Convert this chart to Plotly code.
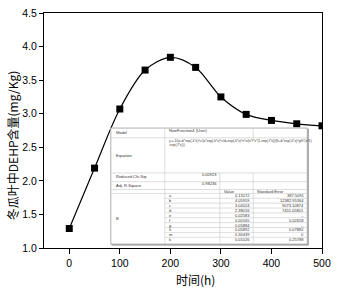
import plotly.graph_objects as go

# ---- data ----
time_h = [0, 50, 100, 150, 200, 250, 300, 350, 400, 450, 500]
dehp = [1.29, 2.19, 3.07, 3.65, 3.84, 3.69, 3.25, 2.99, 2.90, 2.85, 2.82]

x_ticks = [0, 100, 200, 300, 400, 500]
y_ticks = [1.0, 1.5, 2.0, 2.5, 3.0, 3.5, 4.0, 4.5]
x_title = "时间(h)"
y_title = "冬瓜叶中DEHP含量(mg/Kg)"

model_name = "NewFunction4 (User)"
equation_lines = [
    "y = 1/(a+b*exp(-k*x)^c/(a*exp(-k*x)^c/d+exp(-k*x)^e*x/(e*f*x*(1-exp(-f*x))/(h+b*exp(-k*x)^g/h*(x^1)",
    "-exp(-f*x)))",
]
chi_sqr = "0.00923"
adj_r2 = "0.98236"
param_names = ["a", "b", "c", "d", "e", "f", "g", "h", "m", "k"]
param_values = ["0.13172", "4.05959", "3.04024", "2.38016", "0.02583",
                "0.00165", "0.05884", "0.05892", "0.30439", "0.01026"]
param_errors = ["387.5091", "12382.95364", "9073.10874", "7451.05801", "--",
                "0.02658", "--", "0.07882", "0", "0.25788"]

fig = go.Figure()
fig.add_trace(go.Scatter(
    x=time_h, y=dehp, mode="lines+markers",
    line=dict(color="black", width=1.2, shape="spline", smoothing=0.9),
    marker=dict(symbol="square", size=7, color="black"),
    showlegend=False,
))

# ---- layout ----
L, R, T, B = 44, 11, 7, 40
W, H = 338, 288
pw, ph = W - L - R, H - T - B

fig.update_layout(
    width=W, height=H,
    margin=dict(l=L, r=R, t=T, b=B),
    plot_bgcolor="white", paper_bgcolor="white",
    font=dict(family="Liberation Sans, Arial, sans-serif", color="black"),
    xaxis=dict(
        range=[-50, 500], tickvals=x_ticks, ticks="outside", ticklen=5,
        tickwidth=1, tickcolor="black", showline=True, linecolor="black",
        linewidth=1.2, mirror=True, showgrid=False, zeroline=False,
        tickfont=dict(size=10.5),
    ),
    yaxis=dict(
        range=[1.0, 4.5], tickvals=y_ticks, tickformat=".1f", ticks="outside",
        ticklen=4, tickwidth=1, tickcolor="black", showline=True,
        linecolor="black", linewidth=1.2, mirror=True, showgrid=False,
        zeroline=False, tickfont=dict(size=10.5),
    ),
)

# ---- inset table (drawn in paper coordinates) ----
def px(xp):
    return (xp - L) / pw

def py(yp):
    return (H - B - yp) / ph

tl, tr, tt, tb = 112, 312, 125, 244
c1, c2, c3 = 167, 223, 257
shapes = []
shapes.append(dict(type="rect", xref="paper", yref="paper",
                   x0=px(tl + 1), x1=px(tr + 1), y0=py(tb + 1), y1=py(tt + 1),
                   line=dict(color="#9a9a9a", width=1), fillcolor="#9a9a9a", layer="above"))
shapes.append(dict(type="rect", xref="paper", yref="paper",
                   x0=px(tl), x1=px(tr), y0=py(tb), y1=py(tt),
                   line=dict(color="#b0b0b0", width=1), fillcolor="white", layer="above"))

def hline(y, x0=tl, x1=tr):
    shapes.append(dict(type="line", xref="paper", yref="paper", x0=px(x0), x1=px(x1),
                       y0=py(y), y1=py(y), line=dict(color="#c8c8c8", width=0.6), layer="above"))

def vline(x, y0, y1):
    shapes.append(dict(type="line", xref="paper", yref="paper", x0=px(x), x1=px(x),
                       y0=py(y0), y1=py(y1), line=dict(color="#c8c8c8", width=0.6), layer="above"))

hline(135)
hline(171)
hline(180)
hline(188)
hline(192, c1, tr)
row_top = 192
row_h = (tb - 2 - row_top) / len(param_names)
for i in range(1, len(param_names)):
    hline(row_top + i * row_h, c1, tr)
hline(192, tl, c1)
vline(c1, tt, tb)
vline(c3, tt, 135)
vline(c2, 171, tb)
vline(c3, 171, tb)

annotations = []

def txt(x, y, s, anchor="left", size=4):
    annotations.append(dict(xref="paper", yref="paper", x=px(x), y=py(y), text=s,
                            showarrow=False, xanchor=anchor, yanchor="middle",
                            font=dict(size=size, color="#333333",
                                      family="Liberation Sans, Arial")))

txt(tl + 3, 130, "Model")
txt(c1 + 2, 128, model_name)
txt(tl + 3, 153, "Equation")
txt(c1 + 2, 138, equation_lines[0], size=3.3)
txt(c1 + 2, 142, equation_lines[1], size=3.3)
txt(tl + 3, 175, "Reduced Chi-Sqr")
txt(c2 - 1, 172.5, chi_sqr, "right")
txt(tl + 3, 184, "Adj. R-Square")
txt(c2 - 1, 182, adj_r2, "right")
txt(c2 + 2, 190, "Value")
txt(c3 + 2, 190, "Standard Error")
txt(tl + 3, 218, "B")
for i, (n, v, e) in enumerate(zip(param_names, param_values, param_errors)):
    yc = row_top + (i + 0.5) * row_h
    txt(c1 + 2, yc, n)
    txt(c3 - 1, yc, v, "right")
    txt(tr - 1, yc, e, "right")

# axis titles
annotations.append(dict(xref="paper", yref="paper", x=px(198), y=py(280), text=x_title,
                        showarrow=False, xanchor="center", yanchor="middle",
                        font=dict(size=12, color="black",
                                  family="Noto Sans CJK SC, Liberation Sans")))
annotations.append(dict(xref="paper", yref="paper", x=px(12), y=py(143), text=y_title,
                        showarrow=False, xanchor="center", yanchor="middle", textangle=-90,
                        font=dict(size=12, color="black",
                                  family="Noto Sans CJK SC, Liberation Sans")))

fig.update_layout(shapes=shapes, annotations=annotations)
fig.write_html("out.html", config={"displayModeBar": False},
               post_script="document.body.style.margin='0';")
